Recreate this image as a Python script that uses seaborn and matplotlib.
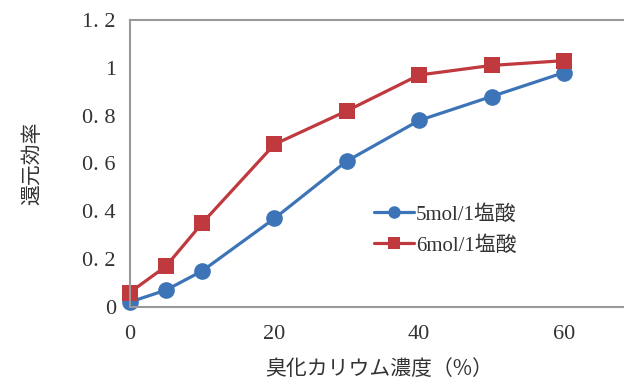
import pandas as pd
import matplotlib.pyplot as plt
import seaborn as sns

# KBr concentration (%) vs reduction efficiency
conc = [0, 5, 10, 20, 30, 40, 50, 60]
eff_5mol = [0.02, 0.07, 0.15, 0.37, 0.61, 0.78, 0.88, 0.98]
eff_6mol = [0.06, 0.17, 0.35, 0.68, 0.82, 0.97, 1.01, 1.03]
series_names = ['5mol/1塩酸', '6mol/1塩酸']
xticks = [0, 20, 40, 60]
yticks = [0, 0.2, 0.4, 0.6, 0.8, 1, 1.2]
ytick_labels = ['0', '0. 2', '0. 4', '0. 6', '0. 8', '1', '1. 2']

df = pd.DataFrame({
    'conc': conc * 2,
    'eff': eff_5mol + eff_6mol,
    'series': [series_names[0]] * len(conc) + [series_names[1]] * len(conc),
})

sns.set_style('white')
plt.rcParams['font.family'] = ['Noto Sans CJK JP', 'DejaVu Sans']

fig = plt.figure(figsize=(6.24, 3.85), dpi=100)
ax = fig.add_axes([0.208, 0.203, 0.80, 0.745])

sns.lineplot(data=df, x='conc', y='eff', hue='series', style='series',
             palette=['#3d74b8', '#c0393e'], markers=['o', 's'], dashes=False,
             markersize=12, markeredgewidth=0, linewidth=2.3, ax=ax, clip_on=False)

ax.set_xlim(0, 69)
ax.set_ylim(0, 1.2)
ax.set_xticks(xticks)
ax.set_yticks(yticks)
ax.set_yticklabels(ytick_labels)
ax.tick_params(axis='both', length=4, width=1, color='#888888', labelsize=16,
               labelcolor='#333333', direction='out')
ax.tick_params(axis='x', pad=9)
ax.tick_params(axis='y', pad=6)
for lbl in ax.get_xticklabels() + ax.get_yticklabels():
    lbl.set_family('Liberation Serif')

for side in ['left', 'bottom', 'top']:
    ax.spines[side].set_color('#999999')
    ax.spines[side].set_linewidth(1.5)
ax.spines['right'].set_visible(False)

ax.set_xlabel('臭化カリウム濃度（%）', fontsize=15, color='#333333', labelpad=10)
ax.set_ylabel('還元効率', fontsize=15, color='#333333', labelpad=28)

ax.legend(title=None, frameon=False, loc='upper left',
          bbox_to_anchor=(0.49, 0.355), borderaxespad=0, borderpad=0,
          handlelength=1.9, handletextpad=0.1, labelspacing=0.55, markerscale=0.75,
          labelcolor='#333333', prop={'family': 'Liberation Serif', 'size': 15})
for t in ax.get_legend().get_texts():
    t.set_family(['Liberation Serif', 'Noto Sans CJK JP'])

fig.savefig('out.png', dpi=100)
